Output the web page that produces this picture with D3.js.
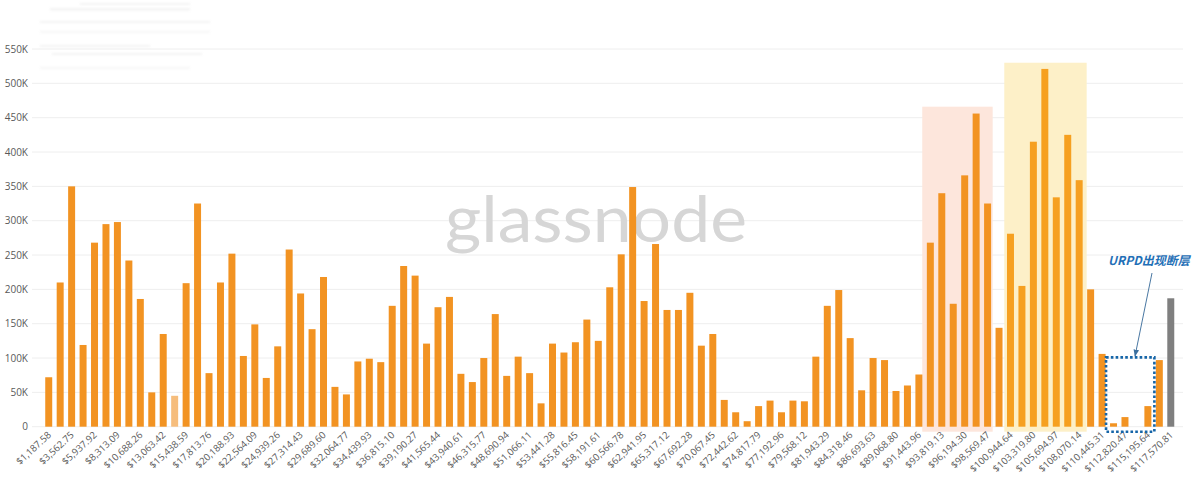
<!DOCTYPE html>
<html>
<head>
<meta charset="utf-8">
<script src="https://cdn.jsdelivr.net/npm/d3@7"></script>
<style>
  html, body { margin: 0; padding: 0; background: #fff; }
  svg { display: block; }
</style>
</head>
<body>
<svg id="chart" width="1200" height="485"></svg>
<script>
// ---------- DATA ----------
const categories = [
  "$1,187.58","$2,375.17","$3,562.75","$4,750.34","$5,937.92","$7,125.50","$8,313.09","$9,500.67","$10,688.26","$11,875.84",
  "$13,063.42","$14,251.01","$15,438.59","$16,626.18","$17,813.76","$19,001.34","$20,188.93","$21,376.51","$22,564.09","$23,751.68",
  "$24,939.26","$26,126.85","$27,314.43","$28,502.01","$29,689.60","$30,877.18","$32,064.77","$33,252.35","$34,439.93","$35,627.52",
  "$36,815.10","$38,002.69","$39,190.27","$40,377.85","$41,565.44","$42,753.02","$43,940.61","$45,128.19","$46,315.77","$47,503.36",
  "$48,690.94","$49,878.52","$51,066.11","$52,253.69","$53,441.28","$54,628.86","$55,816.45","$57,004.03","$58,191.61","$59,379.20",
  "$60,566.78","$61,754.36","$62,941.95","$64,129.53","$65,317.12","$66,504.70","$67,692.28","$68,879.87","$70,067.45","$71,255.04",
  "$72,442.62","$73,630.20","$74,817.79","$76,005.37","$77,192.96","$78,380.54","$79,568.12","$80,755.71","$81,943.29","$83,130.88",
  "$84,318.46","$85,506.04","$86,693.63","$87,881.21","$89,068.80","$90,256.38","$91,443.96","$92,631.55","$93,819.13","$95,006.72",
  "$96,194.30","$97,381.88","$98,569.47","$99,757.05","$100,944.64","$102,132.22","$103,319.80","$104,507.39","$105,694.97","$106,882.55",
  "$108,070.14","$109,257.72","$110,445.31","$111,632.89","$112,820.47","$114,008.06","$115,195.64","$116,383.23","$117,570.81"
];

// supply (BTC) per price bucket
const supply = [
  72000, 210000, 350000, 119000, 268000, 295000, 298000, 242000, 186000, 50000,
  135000, 45000, 209000, 325000, 78000, 210000, 252000, 103000, 149000, 71000,
  117000, 258000, 194000, 142000, 218000, 58000, 47000, 95000, 99000, 94000,
  176000, 234000, 220000, 121000, 174000, 189000, 77000, 65000, 100000, 164000,
  74000, 102000, 78000, 34000, 121000, 108000, 123000, 156000, 125000, 203000,
  251000, 349000, 183000, 266000, 170000, 170000, 195000, 118000, 135000, 39000,
  21000, 8000, 30000, 38000, 21000, 38000, 37000, 102000, 176000, 199000,
  129000, 53000, 100000, 97000, 52000, 60000, 76000, 268000, 340000, 179000,
  366000, 456000, 325000, 144000, 281000, 205000, 415000, 521000, 334000, 425000,
  359000, 200000, 106000, 5000, 14000, 0, 30000, 97000, 187000
];

const tickLabels = [
  "$1,187.58","$3,562.75","$5,937.92","$8,313.09","$10,688.26","$13,063.42","$15,438.59","$17,813.76","$20,188.93","$22,564.09",
  "$24,939.26","$27,314.43","$29,689.60","$32,064.77","$34,439.93","$36,815.10","$39,190.27","$41,565.44","$43,940.61","$46,315.77",
  "$48,690.94","$51,066.11","$53,441.28","$55,816.45","$58,191.61","$60,566.78","$62,941.95","$65,317.12","$67,692.28","$70,067.45",
  "$72,442.62","$74,817.79","$77,192.96","$79,568.12","$81,943.29","$84,318.46","$86,693.63","$89,068.80","$91,443.96","$93,819.13",
  "$96,194.30","$98,569.47","$100,944.64","$103,319.80","$105,694.97","$108,070.14","$110,445.31","$112,820.47","$115,195.64","$117,570.81"
];

const yTicks = [0, 50000, 100000, 150000, 200000, 250000, 300000, 350000, 400000, 450000, 500000, 550000];
const yTickLabels = ["0","50K","100K","150K","200K","250K","300K","350K","400K","450K","500K","550K"];

// highlighted ranges (first/last category) and current-price bucket
const pinkRange = ["$92,631.55", "$98,569.47"];
const yellowRange = ["$100,944.64", "$108,070.14"];
const gapRange = ["$111,632.89", "$115,195.64"];
const fadedBucket = "$14,251.01";
const currentBucket = "$117,570.81";
const annotationText = "URPD出现断层";
const watermark = "glassnode";

// ---------- CHART ----------
const svg = d3.select("#chart");
const font = "'Open Sans', 'Noto Sans', sans-serif";

const x = d3.scaleBand()
  .domain(categories)
  .range([43, 1176.5])
  .paddingInner(0.39)
  .paddingOuter(0.195);

const y = d3.scaleLinear()
  .domain([0, 550000])
  .range([426.7, 49]);

// faint blurred header remnants (top-left)
svg.append("defs").append("filter").attr("id", "blur")
  .append("feGaussianBlur").attr("stdDeviation", 1.2);
const faint = svg.append("g").attr("filter", "url(#blur)").attr("opacity", 0.3);
[[50, 8, 140, 2.5], [80, 3, 110, 2], [40, 21, 170, 2], [40, 31, 170, 1.5], [40, 45, 110, 2],
 [52, 53, 150, 2], [40, 67, 150, 1.5]].forEach(r => {
  faint.append("rect").attr("x", r[0]).attr("y", r[1]).attr("width", r[2]).attr("height", r[3])
    .attr("fill", "#d8d8d8");
});

// gridlines
svg.append("g").selectAll("line").data(yTicks).join("line")
  .attr("x1", 32).attr("x2", 1183)
  .attr("y1", d => y(d)).attr("y2", d => y(d))
  .attr("stroke", "#eeeeee").attr("stroke-width", 1);

// y labels
svg.append("g").selectAll("text").data(yTicks).join("text")
  .attr("x", 28).attr("y", d => y(d) + 3.5)
  .attr("text-anchor", "end")
  .attr("font-family", font).attr("font-size", 10)
  .attr("fill", "#595959")
  .text((d, i) => yTickLabels[i]);

// watermark
svg.append("text")
  .attr("x", 445).attr("y", 242)
  .attr("font-family", "Lato, 'Open Sans', sans-serif")
  .attr("font-size", 63)
  .attr("textLength", 302).attr("lengthAdjust", "spacingAndGlyphs")
  .attr("fill", "#d6d6d6")
  .text(watermark);

// highlight rectangles
function bandRect(range, yTop, padL, padR, fill) {
  const x0 = x(range[0]) - padL;
  const x1 = x(range[1]) + x.bandwidth() + padR;
  svg.append("rect")
    .attr("x", x0).attr("y", y(yTop))
    .attr("width", x1 - x0).attr("height", y(0) + 5 - y(yTop))
    .attr("fill", fill);
}
bandRect(pinkRange, 466000, 4.6, 1.6, "#fde6dc");
bandRect(yellowRange, 530000, 2.7, 4, "#fdf0c8");

// bars
const idx = c => categories.indexOf(c);
const yStart = idx(yellowRange[0]), yEnd = idx(yellowRange[1]);
svg.append("g").selectAll("rect").data(categories).join("rect")
  .attr("x", d => x(d))
  .attr("y", (d, i) => y(supply[i]))
  .attr("width", x.bandwidth())
  .attr("height", (d, i) => y(0) - y(supply[i]))
  .attr("fill", (d, i) => {
    if (d === currentBucket) return "#7f7f7f";
    if (d === fadedBucket) return "#f6bd7c";
    if (i >= yStart && i <= yEnd) return "#f6a020";
    return "#f29322";
  });

// x labels
svg.append("g").selectAll("text").data(tickLabels).join("text")
  .attr("transform", d => `translate(${x(d) + x.bandwidth() / 2 + 3},${y(0) + 9}) rotate(-43)`)
  .attr("text-anchor", "end")
  .attr("font-family", font).attr("font-size", 9.6)
  .attr("fill", "#595959")
  .text(d => d);

// dotted box around the gap
{
  const x0 = x(gapRange[0]) - 4;
  const x1 = x(gapRange[1]) + x.bandwidth() + 3;
  svg.append("rect")
    .attr("x", x0).attr("y", y(101000))
    .attr("width", x1 - x0).attr("height", y(0) + 5 - y(101000))
    .attr("fill", "none")
    .attr("stroke", "#1565a8").attr("stroke-width", 2.6)
    .attr("stroke-dasharray", "2.6,2.2");
}

// annotation text + arrow
svg.append("defs").append("marker")
  .attr("id", "arr").attr("viewBox", "0 0 10 10")
  .attr("refX", 9).attr("refY", 5)
  .attr("markerWidth", 7).attr("markerHeight", 7)
  .attr("orient", "auto")
  .append("path").attr("d", "M0,1 L10,5 L0,9 Z").attr("fill", "#3b6f9e");

svg.append("text")
  .attr("x", 1108).attr("y", 265)
  .attr("font-family", "'Noto Sans CJK SC', 'Noto Sans', sans-serif")
  .attr("font-size", 12).attr("font-weight", "bold").attr("font-style", "italic")
  .attr("fill", "#1f6fb6")
  .text(annotationText);

svg.append("line")
  .attr("x1", 1152).attr("y1", 273)
  .attr("x2", x(gapRange[0]) + 25).attr("y2", y(103000))
  .attr("stroke", "#4a78a3").attr("stroke-width", 1)
  .attr("marker-end", "url(#arr)");
</script>
</body>
</html>
